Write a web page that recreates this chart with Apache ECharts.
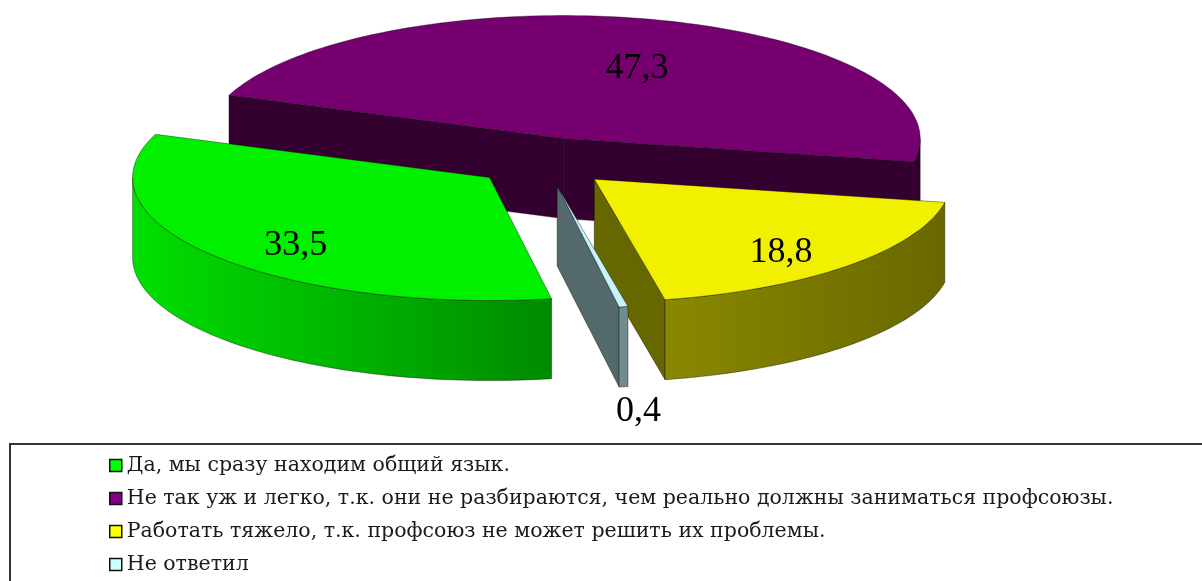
<!DOCTYPE html>
<html>
<head>
<meta charset="utf-8">
<script src="https://cdn.jsdelivr.net/npm/echarts@6/dist/echarts.min.js"></script>
<style>
  html, body { margin: 0; padding: 0; background: #ffffff; }
  #chart { width: 1202px; height: 581px; }
</style>
</head>
<body>
<div id="chart"></div>
<script>
// Survey answers (percent of respondents)
const categories = [
  'Да, мы сразу находим общий язык.',
  'Не так уж и легко, т.к. они не разбираются, чем реально должны заниматься профсоюзы.',
  'Работать тяжело, т.к. профсоюз не может решить их проблемы.',
  'Не ответил'
];
const values = [33.5, 47.3, 18.8, 0.4];

// Colours: face of each slice and its legend swatch
const topColors = ['#00f000', '#770070', '#f0f000', '#c4f4fa'];
const legendColors = ['#00ff00', '#800080', '#ffff00', '#ccffff'];

// Tilted-disc projection of the 3D pie (screen angles, clockwise from 3 o'clock)
const PIE = { cx: 544, cy: 162, rx: 357, ry: 123, depth: 80, explode: 70.7, startDeg: 80 };

const rad = d => d * Math.PI / 180;

// Angular layout of each slice, derived from the values
const total = values.reduce((a, b) => a + b, 0);
const layout = [];
(function () {
  let acc = PIE.startDeg;
  values.forEach(v => {
    const span = v / total * 360;
    const a0 = acc, a1 = acc + span, mid = (a0 + a1) / 2;
    layout.push({
      a0, a1, mid, share: v / total,
      x: PIE.cx + PIE.explode * Math.cos(rad(mid)),
      y: PIE.cy + PIE.explode * (PIE.ry / PIE.rx) * Math.sin(rad(mid))
    });
    acc = a1;
  });
})();

// Back slices are painted first
const order = layout.map((s, i) => i).sort((a, b) => layout[a].y - layout[b].y);
const zOf = [];
order.forEach((idx, rank) => { zOf[idx] = 2 + rank; });

function pt(s, deg, down) {
  return [s.x + PIE.rx * Math.cos(rad(deg)),
          s.y + PIE.ry * Math.sin(rad(deg)) + (down ? PIE.depth : 0)];
}

function shade(hex, f) {
  const n = parseInt(hex.slice(1), 16);
  const r = Math.round(((n >> 16) & 255) * f);
  const g = Math.round(((n >> 8) & 255) * f);
  const b = Math.round((n & 255) * f);
  return 'rgb(' + r + ',' + g + ',' + b + ')';
}

// Side-wall brightness: lit from the left, darker toward the right
function wallFactor(deg) {
  const c = Math.cos(rad(deg));
  return c < 0.2 ? 0.57 + (0.2 - c) / 1.2 * 0.36 : 0.57 - (c - 0.2) / 0.8 * 0.14;
}

const EDGE = 'rgba(0,0,0,0.55)';

function makeRender(i) {
  return function (params, api) {
    const val = api.value(0);
    const s = layout[i];
    const base = topColors[i];
    const children = [];

    // radial cut faces that turn toward the viewer
    const faceFill = shade(base, 0.43);
    const face = deg => ({
      type: 'polygon',
      z2: 1,
      shape: { points: [[s.x, s.y], pt(s, deg, false), pt(s, deg, true), [s.x, s.y + PIE.depth]] },
      style: { fill: faceFill, stroke: EDGE, lineWidth: 0.7 }
    });
    if (Math.cos(rad(s.a0)) < 0) children.push(face(s.a0));
    if (Math.cos(rad(s.a1)) > 0) children.push(face(s.a1));

    // curved outer wall on the front half of the disc
    for (let n = -1; n <= 2; n++) {
      const lo = Math.max(s.a0, 360 * n), hi = Math.min(s.a1, 360 * n + 180);
      if (hi - lo <= 0.01) continue;
      const steps = Math.max(2, Math.ceil((hi - lo) / 1.5));
      const top = [], bot = [];
      for (let k = 0; k <= steps; k++) {
        const d = lo + (hi - lo) * k / steps;
        top.push(pt(s, d, false));
        bot.push(pt(s, d, true));
      }
      const xA = pt(s, hi, false)[0], xB = pt(s, lo, false)[0];
      let fill;
      if (xB - xA < 2) {
        fill = shade(base, wallFactor((lo + hi) / 2));
      } else {
        const stops = [];
        for (let k = 0; k <= 12; k++) {
          const d = hi - (hi - lo) * k / 12;
          const off = Math.min(1, Math.max(0, (pt(s, d, false)[0] - xA) / (xB - xA)));
          stops.push({ offset: off, color: shade(base, wallFactor(d)) });
        }
        fill = new echarts.graphic.LinearGradient(xA, 0, xB, 0, stops, true);
      }
      children.push({
        type: 'polygon',
        z2: 1,
        shape: { points: top.concat(bot.reverse()) },
        style: { fill: fill, stroke: EDGE, lineWidth: 0.7 }
      });
    }

    // top face
    const arc = [[s.x, s.y]];
    const steps = Math.max(2, Math.ceil((s.a1 - s.a0) / 1.5));
    for (let k = 0; k <= steps; k++) arc.push(pt(s, s.a0 + (s.a1 - s.a0) * k / steps, false));
    children.push({
      type: 'polygon',
      z2: 2,
      shape: { points: arc },
      style: { fill: base, stroke: EDGE, lineWidth: 0.7 }
    });

    // value label
    let lx, ly;
    if (s.share < 0.02) {
      const edge = pt(s, s.mid, true);
      lx = edge[0] + 15; ly = edge[1] + 25;
    } else {
      lx = s.x + 0.72 * PIE.rx * Math.cos(rad(s.mid)) + 4;
      ly = s.y + 0.7 * PIE.ry * Math.sin(rad(s.mid)) + 13;
    }
    children.push({
      type: 'text',
      z2: 3,
      style: {
        text: String(val).replace('.', ','),
        x: lx, y: ly,
        fill: '#000000',
        fontSize: 36,
        fontFamily: '"Liberation Serif", "Times New Roman", serif',
        align: 'center',
        verticalAlign: 'middle'
      }
    });

    return { type: 'group', children: children };
  };
}

const chart = echarts.init(document.getElementById('chart'), null, { renderer: 'canvas' });

chart.setOption({
  animation: false,
  backgroundColor: '#ffffff',
  legend: {
    orient: 'vertical',
    left: 104,
    top: 450,
    height: 240,
    padding: [5, 5, 0, 5],
    itemWidth: 12,
    itemHeight: 12,
    itemGap: 12,
    icon: 'rect',
    selectedMode: false,
    data: categories.map((name, i) => ({
      name: name,
      itemStyle: { color: legendColors[i], borderColor: '#111111', borderWidth: 1.5 }
    })),
    textStyle: {
      fontFamily: '"DejaVu Serif", serif',
      fontSize: 20.5,
      color: '#1a1a1a'
    }
  },
  graphic: [{
    type: 'rect',
    silent: true,
    z: 0,
    shape: { x: 10, y: 444, width: 1200, height: 160 },
    style: { fill: 'none', stroke: '#333333', lineWidth: 2 }
  }],
  series: categories.map((name, i) => ({
    type: 'custom',
    name: name,
    coordinateSystem: 'none',
    silent: true,
    z: zOf[i],
    itemStyle: { color: legendColors[i] },
    data: [[values[i]]],
    renderItem: makeRender(i)
  }))
});
</script>
</body>
</html>
